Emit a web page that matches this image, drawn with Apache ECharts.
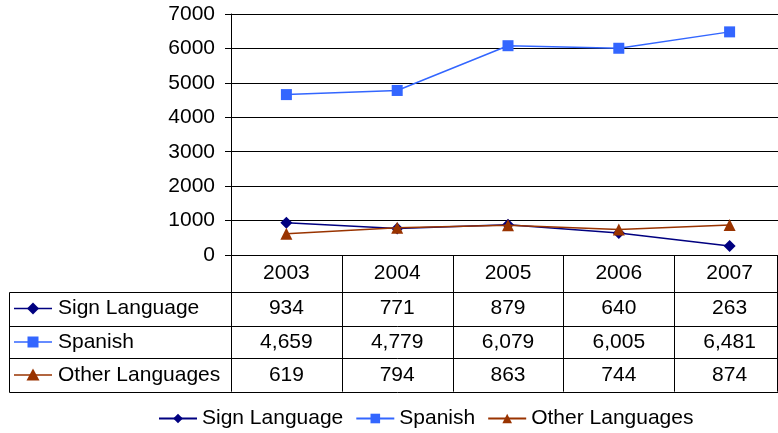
<!DOCTYPE html>
<html>
<head>
<meta charset="utf-8">
<script src="https://cdn.jsdelivr.net/npm/echarts@6/dist/echarts.min.js"></script>
<style>
  html, body { margin: 0; padding: 0; background: #fff; overflow: hidden; }
  /* the original plot runs a few pixels past the right edge of the picture */
  #chart { width: 800px; height: 433px; }
</style>
</head>
<body>
<div id="chart"></div>
<script>
const years = ["2003", "2004", "2005", "2006", "2007"];
const signLanguage = [934, 771, 879, 640, 263];
const spanish = [4659, 4779, 6079, 6005, 6481];
const otherLanguages = [619, 794, 863, 744, 874];
const seriesNames = ["Sign Language", "Spanish", "Other Languages"];
const seriesColors = ["#000080", "#3366FF", "#993300"];
const seriesSymbols = ["diamond", "rect", "triangle"];
const yTicks = { min: 0, max: 7000, interval: 1000 };

const FONT = "Liberation Sans, Arial, sans-serif";
const FS = 21;
const gridLeft = 231, gridTop = 14, gridWidth = 554, gridBottomY = 255;
const rowLines = [291.7, 325.5, 358.3, 391.7];
const rowCenters = [308.6, 342, 375];
const allValues = [signLanguage, spanish, otherLanguages];

const chart = echarts.init(document.getElementById("chart"), null, { renderer: "canvas" });

const fmt = (v) => v.toLocaleString("en-US");

// data table rows drawn as extra category axes under the plot
const tableAxes = allValues.map((vals, i) => ({
  type: "category",
  gridIndex: 0,
  position: "bottom",
  offset: 0,
  data: vals.map(fmt),
  axisLine: { show: false },
  axisTick: { show: false },
  axisLabel: {
    margin: rowCenters[i] - gridBottomY - 11,
    color: "#000",
    fontSize: FS,
    fontFamily: FONT,
    lineHeight: 22
  }
}));

const graphics = [];
const lineStyle = { stroke: "#000", lineWidth: 1 };
// vertical lines of the table
for (let i = 0; i <= years.length; i++) {
  const x = Math.round(gridLeft + i * gridWidth / years.length) + 0.5;
  graphics.push({ type: "line", shape: { x1: x, y1: gridBottomY, x2: x, y2: rowLines[3] }, style: lineStyle, silent: true });
}
graphics.push({ type: "line", shape: { x1: 777.5, y1: gridBottomY, x2: 777.5, y2: rowLines[3] }, style: lineStyle, silent: true });
// horizontal lines
rowLines.forEach((y) => {
  const yy = Math.round(y) + 0.5;
  graphics.push({ type: "line", shape: { x1: 9.5, y1: yy, x2: 785, y2: yy }, style: lineStyle, silent: true });
});
graphics.push({ type: "line", shape: { x1: 9.5, y1: Math.round(rowLines[0]) + 0.5, x2: 9.5, y2: Math.round(rowLines[3]) + 0.5 }, style: lineStyle, silent: true });

// row headers with legend keys
seriesNames.forEach((name, i) => {
  const cy = rowCenters[i];
  const c = seriesColors[i];
  graphics.push({ type: "line", shape: { x1: 14, y1: cy, x2: 52, y2: cy }, style: { stroke: c, lineWidth: 1.5 }, silent: true });
  let marker;
  if (seriesSymbols[i] === "diamond") {
    marker = { type: "polygon", shape: { points: [[33, cy - 6], [39, cy], [33, cy + 6], [27, cy]] } };
  } else if (seriesSymbols[i] === "rect") {
    marker = { type: "rect", shape: { x: 27.5, y: cy - 5.5, width: 11, height: 11 } };
  } else {
    marker = { type: "polygon", shape: { points: [[33, cy - 6.5], [39.5, cy + 5.5], [26.5, cy + 5.5]] } };
  }
  marker.style = { fill: c };
  marker.silent = true;
  graphics.push(marker);
  graphics.push({
    type: "text", x: 58, y: cy, silent: true,
    style: { text: name, fill: "#000", font: FS + "px " + FONT, verticalAlign: "middle", textAlign: "left" }
  });
});

const option = {
  animation: false,
  backgroundColor: "#fff",
  textStyle: { fontFamily: FONT },
  grid: { left: gridLeft, top: gridTop, width: gridWidth, height: gridBottomY - gridTop, containLabel: false },
  legend: {
    left: 153,
    top: 403,
    itemWidth: 38,
    itemHeight: 12,
    itemGap: 12,
    textStyle: { fontSize: FS, color: "#000", fontFamily: FONT },
    data: seriesNames
  },
  xAxis: [
    {
      type: "category",
      data: years,
      position: "bottom",
      axisLine: { show: true, lineStyle: { color: "#000", width: 1 } },
      axisTick: { show: false },
      axisLabel: { margin: 273.5 - gridBottomY - 11, color: "#000", fontSize: FS, fontFamily: FONT, lineHeight: 22 }
    }
  ].concat(tableAxes),
  yAxis: {
    type: "value",
    min: yTicks.min,
    max: yTicks.max,
    interval: yTicks.interval,
    axisLine: { show: true, lineStyle: { color: "#000", width: 1 } },
    axisTick: { show: true, length: 6, lineStyle: { color: "#000" } },
    axisLabel: { margin: 16, color: "#000", fontSize: FS, fontFamily: FONT, formatter: (v) => String(v) },
    splitLine: { show: true, lineStyle: { color: "#000", width: 1 } }
  },
  series: seriesNames.map((name, i) => ({
    name: name,
    type: "line",
    data: allValues[i],
    symbol: seriesSymbols[i],
    symbolSize: seriesSymbols[i] === "rect" ? 11 : 12,
    lineStyle: { color: seriesColors[i], width: 1.5 },
    itemStyle: { color: seriesColors[i] },
    z: 3 + i
  })),
  graphic: graphics
};

chart.setOption(option);
</script>
</body>
</html>
